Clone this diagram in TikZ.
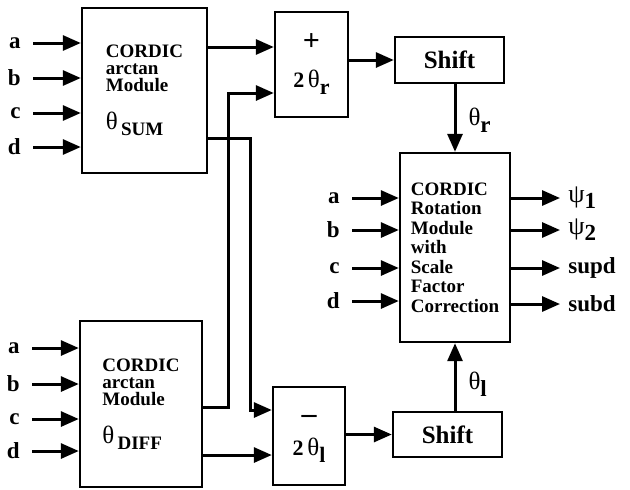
\documentclass[tikz,border=0pt]{standalone}
\usepackage{fontspec}
\setmainfont{Liberation Serif}
\usepackage{tikz}
\usetikzlibrary{arrows.meta}

\newcommand{\lowtext}[2][3pt]{\raisebox{-#1}{#2}}
\newcommand{\thet}{{\mdseries\fontsize{12.5}{12}\selectfont θ}}
\newcommand{\psig}{{\mdseries\fontsize{13}{12}\selectfont ψ}}

\begin{document}
\begin{tikzpicture}[x=0.5pt,y=-0.5pt,
  every node/.style={font=\bfseries\fontsize{9.5}{8.5}\selectfont},
  blk/.style={draw,line width=1.2pt,inner sep=0pt},
  lbl/.style={inner sep=0pt,font=\bfseries\fontsize{11.5}{12}\selectfont},
  arr/.style={line width=1.5pt,-{Triangle[length=9pt,width=7.5pt]}}]
\useasboundingbox (0,0) rectangle (630,489);

% arctan modules
\node[blk,minimum width=62.5pt,minimum height=82.5pt,align=left] (sum) at (144.5,90.5)
  {CORDIC\\arctan\\Module\\[9pt]\thet\,\lowtext{SUM}};
\node[blk,minimum width=61pt,minimum height=83pt,align=left] (diff) at (141,404)
  {CORDIC\\arctan\\Module\\[9pt]\thet\,\lowtext{DIFF}};

% adders
\node[blk,minimum width=36.5pt,minimum height=52.5pt,align=center,
      font=\bfseries\fontsize{11}{9}\selectfont] (plus) at (311.5,64.5)
  {{\fontsize{15}{14}\selectfont +}\\[9.5pt]2\,\thet\lowtext[3.5pt]{r}};
\node[blk,minimum width=36pt,minimum height=49pt,align=center,
      font=\bfseries\fontsize{11}{9}\selectfont] (minus) at (309,436)
  {\lowtext[7pt]{\fontsize{15}{14}\selectfont –}\\[6pt]2\,\thet\lowtext[3.5pt]{l}};

% shifters
\node[blk,minimum width=54.5pt,minimum height=23pt,font=\bfseries\fontsize{12.5}{12}\selectfont]
  (shiftT) at (449.5,60) {Shift};
\node[blk,minimum width=54.5pt,minimum height=22.5pt,font=\bfseries\fontsize{12.5}{12}\selectfont]
  (shiftB) at (447.5,434.5) {Shift};

% rotation module
\node[blk,minimum width=55pt,minimum height=94.5pt,align=left,
      font=\bfseries\fontsize{9.5}{9.75}\selectfont] (rot) at (455,247.5)
  {CORDIC\\Rotation\\Module\\with\\Scale\\Factor\\Correction};

% inputs
\foreach \y/\t in {43/a,78/b,113/c,147/d} {
  \node[lbl,anchor=east,inner xsep=6pt] (sin\t) at (33,\y) {\t};
  \draw[arr] (sin\t.east) -- (sum.west |- sin\t);
}
\foreach \y/\t in {348/a,384/b,419/c,451/d} {
  \node[lbl,anchor=east,inner xsep=6pt] (din\t) at (32,\y) {\t};
  \draw[arr] (din\t.east) -- (diff.west |- din\t);
}
\foreach \y/\t in {198/a,230/b,268/c,301/d} {
  \node[lbl,anchor=east,inner xsep=6pt] (rin\t) at (352,\y) {\t};
  \draw[arr] (rin\t.east) -- (rot.west |- rin\t);
}

% outputs
\foreach \y/\t/\n in {198/{\psig\lowtext{1}}/o1,230/{\psig\lowtext{2}}/o2,268/supd/o3,304/subd/o4} {
  \coordinate (\n) at (560,\y);
  \draw[arr] (rot.east |- \n) -- (\n);
  \node[lbl,anchor=west,inner xsep=4pt] (l\n) at (\n) {\t};
}

% wiring
\coordinate (upL) at (228,93);
\coordinate (dnR) at (250,410);
\draw[arr] (sum.east |- 0,47) -- (plus.west |- 0,47);
\draw[arr] (diff.east |- 0,407) -| (upL) -- (plus.west |- upL);
\draw[arr] (sum.east |- 0,138) -| (dnR) -- (minus.west |- dnR);
\draw[arr] (diff.east |- 0,455) -- (minus.west |- 0,455);
\draw[arr] (plus.east |- shiftT) -- (shiftT.west);
\draw[arr] (minus.east |- shiftB) -- (shiftB.west);
\draw[arr] (shiftT.south -| rot.north) -- (rot.north)
  node[pos=.53,anchor=west,lbl,xshift=6pt] (thr) {\thet\lowtext[3.5pt]{r}};
\draw[arr] (shiftB.north -| rot.south) -- (rot.south)
  node[pos=.4,anchor=west,lbl,xshift=6pt] (thl) {\thet\lowtext[3.5pt]{l}};
\end{tikzpicture}
\end{document}
